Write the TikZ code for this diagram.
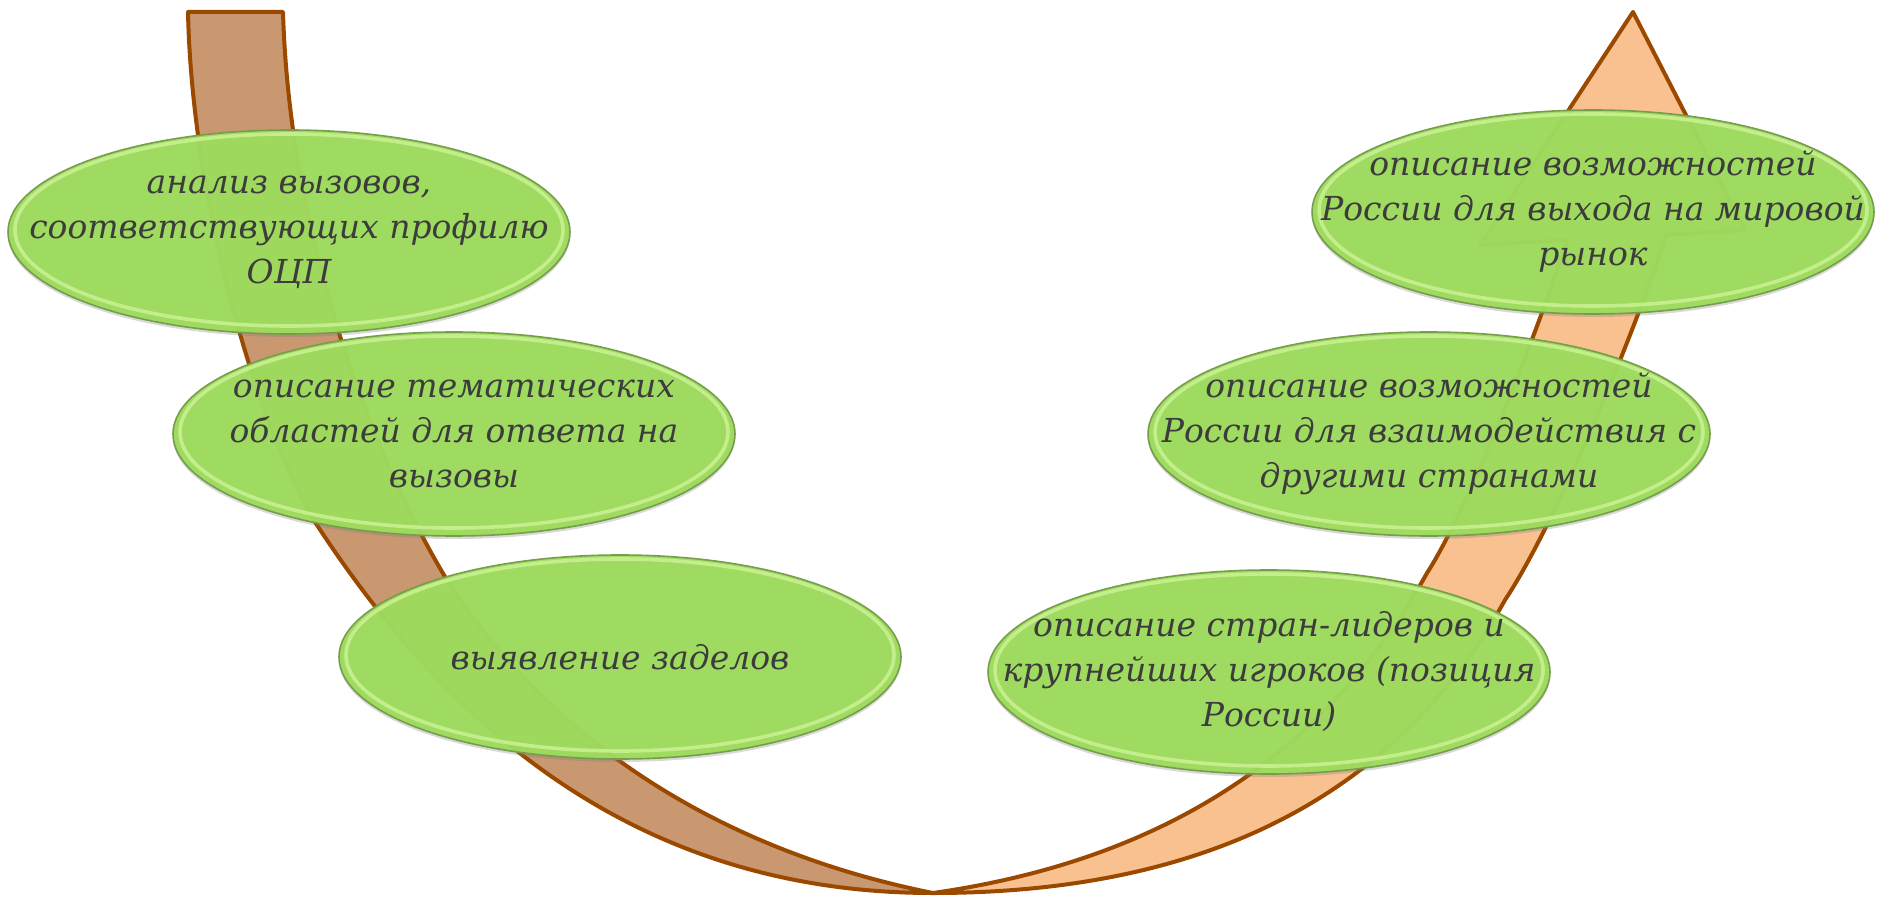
\documentclass[tikz,border=0pt]{standalone}
\usepackage{fontspec}
\setmainfont{DejaVu Serif}
\usetikzlibrary{shapes.geometric,shadows}

\definecolor{bandline}{RGB}{156,73,0}
\definecolor{bandleft}{RGB}{201,152,113}
\definecolor{bandright}{RGB}{249,193,144}
\definecolor{leaf}{RGB}{158,219,93}
\definecolor{leafedge}{RGB}{118,158,74}
\definecolor{leaflight}{RGB}{196,238,140}
\definecolor{inkgray}{RGB}{60,60,60}

\tikzset{
  band/.style={draw=bandline, line width=2pt, line join=round},
  stage/.style={ellipse, fill=leaf, fill opacity=0.965, draw=leafedge, line width=0.8pt,
    minimum width=281pt, minimum height=102pt, inner sep=0pt,
    drop shadow={shadow xshift=0pt, shadow yshift=-1.5pt, opacity=0.3},
    path picture={\draw[leaflight, line width=1.8pt]
      ([yshift=1pt]path picture bounding box.center) ellipse (137pt and 48pt);}},
  stagetext/.style={align=center, text=inkgray,
    font=\itshape\fontsize{16.5}{22.5}\selectfont}
}

\begin{document}
\begin{tikzpicture}[x=0.5pt, y=-0.5pt]
  \useasboundingbox (0,0) rectangle (1883,897);

  % left arm
  \draw[band, fill=bandleft] (188,12)
    .. controls (192,200) and (255,420) .. (315,522)
    .. controls (445,722) and (633,893) .. (933,893)
    .. controls (683,843) and (530,710) .. (447,580)
    .. controls (380,470) and (290,250) .. (283,12) -- cycle;
  % right arm with head
  \draw[band, fill=bandright] (933,893)
    .. controls (1250,893) and (1415,762) .. (1505,600)
    .. controls (1560,517) and (1641,315) .. (1666,235)
    -- (1745,230) -- (1633,12) -- (1480,245) -- (1567,240)
    .. controls (1535,340) and (1466,513) .. (1427,573)
    .. controls (1320,765) and (1150,862) .. (933,893) -- cycle;

  % stages down the left arm
  \node[stage] (challenges) at (289,232) {};
  \node[stagetext] at (challenges) {анализ вызовов,\\соответствующих профилю\\ОЦП};
  \node[stage] (areas) at (454,434) {};
  \node[stagetext] at (areas) {описание тематических\\областей для ответа на\\вызовы};
  \node[stage] (groundwork) at (620,657) {};
  \node[stagetext] at (groundwork) {выявление заделов};

  % stages up the right arm
  \node[stage] (leaders) at (1269,672) {};
  \node[stagetext] at (leaders) {описание стран-лидеров и\\крупнейших игроков (позиция\\России)};
  \node[stage] (partners) at (1429,434) {};
  \node[stagetext] at (partners) {описание возможностей\\России для взаимодействия с\\другими странами};
  \node[stage] (market) at (1593,212) {};
  \node[stagetext] at (market) {описание возможностей\\России для выхода на мировой\\рынок};
\end{tikzpicture}
\end{document}
